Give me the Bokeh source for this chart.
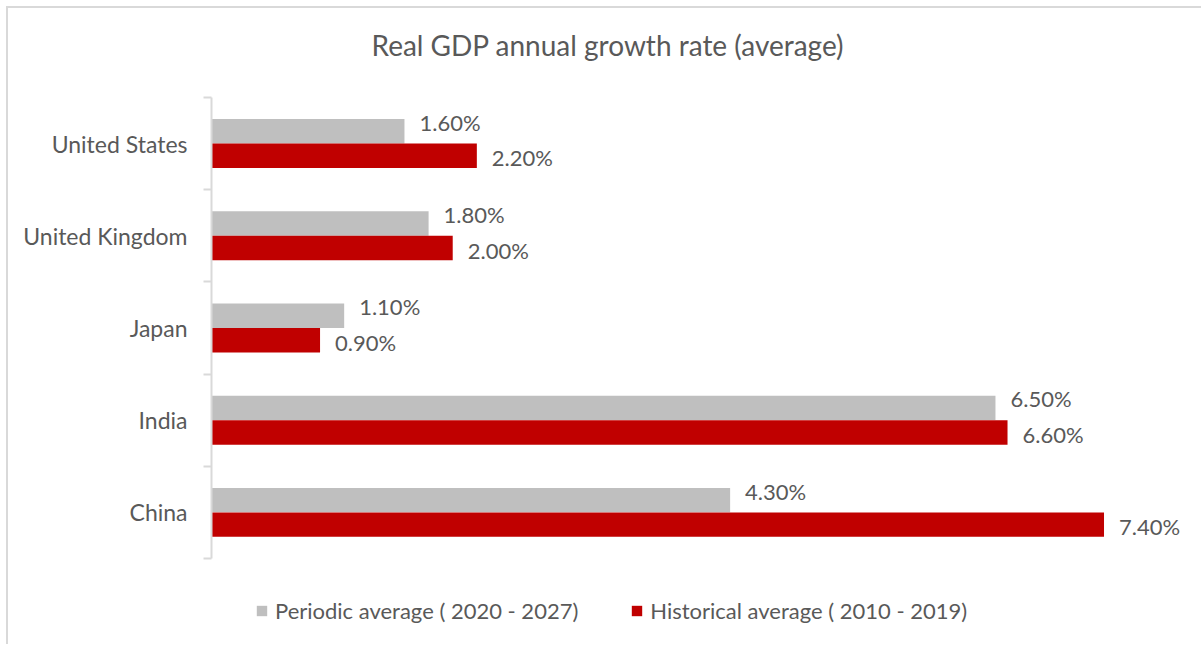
from bokeh.plotting import figure
from bokeh.models import ColumnDataSource, LabelSet, Legend, LegendItem, FixedTicker
from bokeh.transform import dodge
from bokeh.core.properties import value
from bokeh.embed import file_html
from bokeh.resources import INLINE

# ---- data ----
countries = ["United States", "United Kingdom", "Japan", "India", "China"]
periodic = [1.6, 1.8, 1.1, 6.5, 4.3]
historical = [2.2, 2.0, 0.9, 6.6, 7.4]
series_names = ["Periodic average ( 2020 - 2027)", "Historical average ( 2010 - 2019)"]
title_text = "Real GDP annual growth rate (average)"

# ---- styling ----
FONT = "Lato"
TXT = "#595959"
GRAY = "#bfbfbf"
RED = "#c00000"
AXIS = "#d9d9d9"

n = len(countries)
ypos = [n - 0.5 - i for i in range(n)]
src = ColumnDataSource(dict(
    y=ypos, country=countries, periodic=periodic, historical=historical,
    plab=[f"{v:.2f}%" for v in periodic], hlab=[f"{v:.2f}%" for v in historical],
))

p = figure(width=1195, height=638, x_range=(0, 8.2), y_range=(-0.955, 5.336),
           output_backend="svg", toolbar_location=None, x_axis_location=None,
           min_border_left=203, min_border_right=3, min_border_top=58, min_border_bottom=0)
p.styles = {"margin-left": "6px", "margin-top": "6px",
            "border-left": "2px solid #d9d9d9", "border-top": "2px solid #d9d9d9"}
p.outline_line_color = None
p.xgrid.visible = False
p.ygrid.visible = False

p.title.text = title_text
p.title.align = "left"
p.title.offset = 160
p.title.text_font = FONT
p.title.text_font_size = "28px"
p.title.text_font_style = "normal"
p.title.text_color = TXT
p.title.standoff = 10

ax = p.yaxis[0]
ax.ticker = FixedTicker(ticks=ypos, minor_ticks=list(range(n + 1)))
ax.major_label_overrides = {y: c for y, c in zip(ypos, countries)}
ax.bounds = (0, n)
ax.major_tick_line_color = None
ax.major_tick_out = 0
ax.major_tick_in = 0
ax.minor_tick_out = 8
ax.minor_tick_in = 0
ax.minor_tick_line_color = AXIS
ax.minor_tick_line_width = 2
ax.axis_line_color = AXIS
ax.axis_line_width = 2
ax.major_label_standoff = 16
ax.major_label_text_font = FONT
ax.major_label_text_font_size = "23px"
ax.major_label_text_color = TXT

BH = 0.265
D = 0.133
r1 = p.hbar(y=dodge("y", D, range=p.y_range), left=0, right="periodic", height=BH,
            fill_color=GRAY, line_color=None, source=src)
r2 = p.hbar(y=dodge("y", -D, range=p.y_range), left=0, right="historical", height=BH,
            fill_color=RED, line_color=None, source=src)

for col, lab, dy, off in [("periodic", "plab", D, 9), ("historical", "hlab", -D, -2)]:
    ls = LabelSet(x=col, y=dodge("y", dy, range=p.y_range), text=lab, source=src,
                  x_offset=15, y_offset=off, text_baseline="middle", text_align="left",
                  text_font=value(FONT), text_font_size="22px", text_color=TXT)
    p.add_layout(ls)

legend = Legend(items=[LegendItem(label=series_names[0], renderers=[r1]),
                       LegendItem(label=series_names[1], renderers=[r2])],
                orientation="horizontal", location=(44, 22),
                glyph_width=13, glyph_height=13, label_standoff=7, spacing=52,
                border_line_color=None, background_fill_alpha=0, padding=0, margin=0,
                label_text_font=FONT, label_text_font_size="22px", label_text_color=TXT)
p.add_layout(legend)

open("out.html", "w").write(file_html(p, INLINE))
